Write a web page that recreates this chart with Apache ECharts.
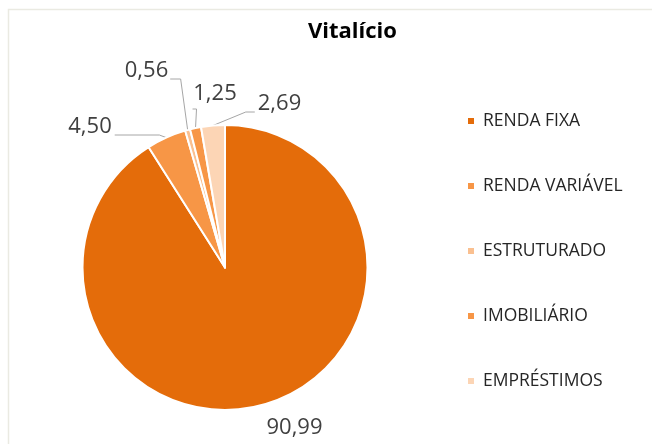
<!DOCTYPE html>
<html>
<head>
<meta charset="utf-8">
<script src="https://cdn.jsdelivr.net/npm/echarts@6/dist/echarts.min.js"></script>
<style>
html,body{margin:0;padding:0;background:#fff;overflow:hidden;}
#chart{width:652px;height:444px;}
</style>
</head>
<body>
<div id="chart"></div>
<script>
const chartTitle = 'Vitalício';
const categories = ['RENDA FIXA', 'RENDA VARIÁVEL', 'ESTRUTURADO', 'IMOBILIÁRIO', 'EMPRÉSTIMOS'];
const values = [90.99, 4.50, 0.56, 1.25, 2.69];
const colors = ['#E46C0A', '#F79646', '#FAC090', '#F79646', '#FCD5B5'];

// label anchor positions (layout only)
const labelPos = [[294.5, 428], [90, 127], [146.5, 71], [215, 94], [279.5, 104]];

const chart = echarts.init(document.getElementById('chart'), null, {renderer: 'canvas'});

const data = categories.map((c, i) => ({
  name: c,
  value: values[i],
  itemStyle: {color: colors[i]},
  labelLine: {show: i !== 0}
}));

function fmt(v) { return v.toFixed(2).replace('.', ','); }

chart.setOption({
  animation: false,
  backgroundColor: '#ffffff',
  title: {
    text: chartTitle,
    left: 308,
    top: 21,
    padding: 0,
    textStyle: {fontFamily: 'Open Sans', fontWeight: 'bold', fontSize: 22, color: '#000000'}
  },
  graphic: [{
    type: 'polyline',
    shape: {points: [[8.5, 460], [8.5, 9.5], [660, 9.5]]},
    style: {fill: null, stroke: '#EAEAE2', lineWidth: 1.5},
    silent: true
  }],
  legend: {
    orient: 'vertical',
    left: 466,
    top: 111,
    itemWidth: 8,
    itemHeight: 8,
    itemGap: 45,
    icon: 'rect',
    padding: 0,
    data: categories,
    textStyle: {fontFamily: 'Open Sans', fontSize: 17.5, color: '#262626', lineHeight: 20, padding: [0, 0, 0, 3]}
  },
  series: [{
    type: 'pie',
    center: [225, 267.5],
    radius: 142.5,
    startAngle: 90,
    clockwise: true,
    avoidLabelOverlap: false,
    data: data,
    itemStyle: {borderColor: '#ffffff', borderWidth: 2},
    label: {
      show: true,
      position: 'outside',
      formatter: p => fmt(p.value),
      fontFamily: 'Open Sans',
      fontSize: 22,
      color: '#404040'
    },
    labelLine: {show: true, length: 10, length2: 10, lineStyle: {color: '#A6A6A6', width: 1}},
    labelLayout: function (p) {
      const i = p.dataIndex;
      const cx = labelPos[i][0], cy = labelPos[i][1];
      const w = p.labelRect.width;
      const e = p.labelLinePoints ? p.labelLinePoints[0] : [cx, cy];
      let pts;
      if (i === 1) pts = [e, [e[0] - 7, cy + 8], [cx + w / 2 + 3, cy + 8]];
      else if (i === 2) pts = [e, [e[0] - 7, cy + 8], [cx + w / 2 + 2, cy + 8]];
      else if (i === 3) pts = [e, [e[0] + 1, cy + 15], [e[0] - 3, cy + 15]];
      else if (i === 4) pts = [e, [cx - w / 2 - 12, cy + 8], [cx - w / 2 - 3, cy + 8]];
      const r = {x: cx, y: cy, align: 'center', verticalAlign: 'middle'};
      if (pts) r.labelLinePoints = pts;
      return r;
    }
  }]
});
</script>
</body>
</html>
